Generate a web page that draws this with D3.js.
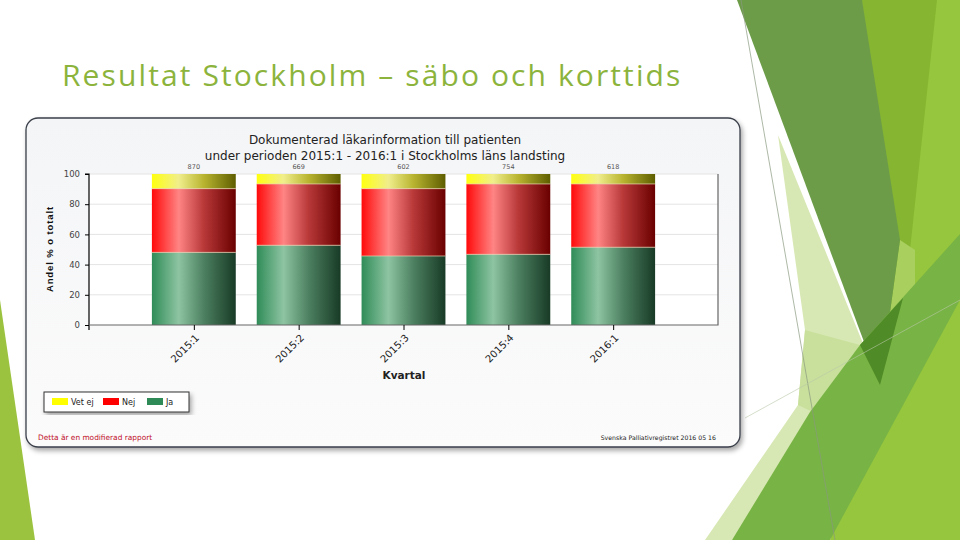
<!DOCTYPE html>
<html>
<head>
<meta charset="utf-8">
<script src="https://cdn.jsdelivr.net/npm/d3@7"></script>
<style>
  html, body { margin: 0; padding: 0; background: #fff; }
  svg { display: block; }
</style>
</head>
<body>
<div id="slide"></div>
<script>
// data
const quarters = ["2015:1", "2015:2", "2015:3", "2015:4", "2016:1"];
const counts = ["870", "669", "602", "754", "618"];
const ja = [48.1, 52.8, 45.7, 46.8, 51.5];
const nej = [42.2, 40.6, 44.6, 46.6, 41.9];
const vetej = [9.7, 6.6, 9.7, 6.6, 6.6];
const seriesNames = ["Ja", "Nej", "Vet ej"];
const yTicks = [0, 20, 40, 60, 80, 100];

const width = 960, height = 540;

const svg = d3.select("#slide").append("svg")
    .attr("width", width)
    .attr("height", height);

const defs = svg.append("defs");

// slide decoration (theme shapes)
const deco = svg.append("g");
const shapes = [
    {fill: "#96c63d", pts: [[862, 0], [960, 0], [960, 540], [830, 540], [880, 385]]},
    {fill: "#86b532", pts: [[862, 0], [937, 0], [910, 250], [880, 385]]},
    {fill: "#a9d05e", pts: [[900, 240], [915, 250], [915, 330], [880, 385]]},
    {fill: "#d8e8b4", pts: [[778, 135], [880, 385], [800, 470], [732, 540], [705, 540], [798, 405], [805, 330]]},
    {fill: "#c8e09c", pts: [[805, 330], [860, 345], [880, 385], [840, 425], [798, 405]]},
    {fill: "#6c9c48", pts: [[737, 0], [862, 0], [900, 240], [880, 385]]},
    {fill: "#78b345", pts: [[732, 540], [810, 412], [860, 345], [960, 234], [960, 300], [830, 540]]},
    {fill: "#4f8b26", pts: [[860, 345], [903, 298], [880, 385]]},
    {fill: "#9cc33f", pts: [[0, 300], [35, 540], [0, 540]]}
];
deco.selectAll("polygon")
    .data(shapes)
    .join("polygon")
    .attr("points", d => d.pts.map(p => p.join(",")).join(" "))
    .attr("fill", d => d.fill);
deco.append("line")
    .attr("x1", 741).attr("y1", 0).attr("x2", 835).attr("y2", 540)
    .attr("stroke", "#8a9a80").attr("stroke-width", 0.7);
deco.append("line")
    .attr("x1", 745).attr("y1", 418).attr("x2", 960).attr("y2", 300)
    .attr("stroke", "#b8c8a8").attr("stroke-width", 0.6);

// slide title
svg.append("text")
    .attr("x", 62)
    .attr("y", 86)
    .attr("font-family", "Open Sans, sans-serif")
    .attr("font-size", 30)
    .attr("letter-spacing", 2.1)
    .attr("fill", "#8cb43c")
    .text("Resultat Stockholm – säbo och korttids");

// chart panel
const shadow = defs.append("filter").attr("id", "shadow")
    .attr("x", "-5%").attr("y", "-5%").attr("width", "115%").attr("height", "120%");
shadow.append("feDropShadow")
    .attr("dx", 2).attr("dy", 3).attr("stdDeviation", 2.5)
    .attr("flood-color", "#000").attr("flood-opacity", 0.35);

const panelGrad = defs.append("linearGradient").attr("id", "panelGrad")
    .attr("x1", 0).attr("y1", 0).attr("x2", 0).attr("y2", 1);
panelGrad.append("stop").attr("offset", "0%").attr("stop-color", "#f4f5f7");
panelGrad.append("stop").attr("offset", "100%").attr("stop-color", "#fbfbfb");

svg.append("rect")
    .attr("x", 26).attr("y", 118)
    .attr("width", 714).attr("height", 329)
    .attr("rx", 12)
    .attr("fill", "url(#panelGrad)")
    .attr("stroke", "#3a3f4a")
    .attr("stroke-width", 1.3)
    .attr("filter", "url(#shadow)");

const chart = svg.append("g");

chart.append("text")
    .attr("x", 384).attr("y", 144)
    .attr("text-anchor", "middle")
    .attr("font-family", "DejaVu Sans, sans-serif")
    .attr("font-size", 12)
    .attr("fill", "#222")
    .selectAll("tspan")
    .data(["Dokumenterad läkarinformation till patienten",
        "under perioden 2015:1 - 2016:1 i Stockholms läns landsting"])
    .join("tspan")
    .attr("x", 385)
    .attr("dy", (d, i) => i ? 16 : 0)
    .text(d => d);

// scales
const x = d3.scaleLinear().domain([0, quarters.length + 1]).range([89, 718]);
const y = d3.scaleLinear().domain([0, 100]).range([325, 174]);
const barW = 0.8 * (x(1) - x(0));

chart.append("rect")
    .attr("x", x(0)).attr("y", y(100))
    .attr("width", x(quarters.length + 1) - x(0))
    .attr("height", y(0) - y(100))
    .attr("fill", "#fff");

// grid
chart.append("g")
    .selectAll("line")
    .data(yTicks.filter(t => t > 0))
    .join("line")
    .attr("x1", x(0)).attr("x2", x(quarters.length + 1))
    .attr("y1", d => y(d)).attr("y2", d => y(d))
    .attr("stroke", "#e4e4e4");

// gradients for bars
const grads = {
    "Vet ej": ["#ffff10", "#f0ee8c", "#b8b430", "#5e5e00"],
    "Nej": ["#ff0a0a", "#ff8484", "#b83838", "#6a0000"],
    "Ja": ["#2f8c58", "#8ec4a2", "#4c8060", "#183a26"]
};
Object.entries(grads).forEach(([name, c], i) => {
    const g = defs.append("linearGradient").attr("id", "g" + i)
        .attr("x1", 0).attr("y1", 0).attr("x2", 1).attr("y2", 0);
    g.append("stop").attr("offset", "0%").attr("stop-color", c[0]);
    g.append("stop").attr("offset", "32%").attr("stop-color", c[1]);
    g.append("stop").attr("offset", "62%").attr("stop-color", c[2]);
    g.append("stop").attr("offset", "100%").attr("stop-color", c[3]);
    grads[name].id = "g" + i;
});

const rows = quarters.map((q, i) => ({q, "Ja": ja[i], "Nej": nej[i], "Vet ej": vetej[i]}));
const stack = d3.stack().keys(seriesNames)(rows);

const layer = chart.append("g")
    .selectAll("g")
    .data(stack)
    .join("g")
    .attr("fill", d => "url(#" + grads[d.key].id + ")");

layer.selectAll("rect")
    .data(d => d)
    .join("rect")
    .attr("x", (d, i) => x(i + 1) - barW / 2)
    .attr("y", d => y(d[1]))
    .attr("width", barW)
    .attr("height", d => y(d[0]) - y(d[1]));

// light seams between segments
chart.append("g")
    .selectAll("line")
    .data(stack.slice(0, 2).flatMap(s => s.map((d, i) => ({v: d[1], i}))))
    .join("line")
    .attr("x1", d => x(d.i + 1) - barW / 2)
    .attr("x2", d => x(d.i + 1) + barW / 2)
    .attr("y1", d => y(d.v)).attr("y2", d => y(d.v))
    .attr("stroke", "#e8d2b0").attr("stroke-opacity", 0.7);

// count labels
chart.append("g")
    .selectAll("text")
    .data(counts)
    .join("text")
    .attr("x", (d, i) => x(i + 1))
    .attr("y", y(100) - 5)
    .attr("text-anchor", "middle")
    .attr("font-family", "DejaVu Sans, sans-serif")
    .attr("font-size", 6.5)
    .attr("fill", "#555")
    .text(d => d);

// axes
const yAxis = chart.append("g")
    .attr("transform", `translate(${x(0)},0)`)
    .call(d3.axisLeft(y).tickValues(yTicks).tickSize(4).tickPadding(5));
yAxis.select(".domain").attr("d", `M-4,${y(100)}H0V${y(0) + 5}`).attr("stroke", "#000").attr("stroke-width", 1.2);
yAxis.selectAll(".tick line").attr("stroke", "#000");
yAxis.selectAll("text")
    .attr("font-family", "DejaVu Sans, sans-serif")
    .attr("font-size", 8.5)
    .attr("fill", "#444");

const xAxis = chart.append("g")
    .attr("transform", `translate(0,${y(0)})`)
    .call(d3.axisBottom(x)
        .tickValues(d3.range(1, quarters.length + 1))
        .tickFormat(i => quarters[i - 1])
        .tickSize(5));
xAxis.select(".domain").attr("d", `M${x(0)},0H${x(quarters.length + 1)}V${y(100) - y(0)}`)
    .attr("stroke", "#666").attr("stroke-width", 1.2);
xAxis.selectAll(".tick line").attr("stroke", "#000");
xAxis.selectAll("text")
    .attr("font-family", "DejaVu Sans, sans-serif")
    .attr("font-size", 10)
    .attr("fill", "#222")
    .attr("text-anchor", "end")
    .attr("x", 0).attr("y", 0)
    .attr("dy", "0.35em")
    .attr("transform", "translate(3,11) rotate(-45)");

chart.append("text")
    .attr("x", 404).attr("y", 379)
    .attr("text-anchor", "middle")
    .attr("font-family", "DejaVu Sans, sans-serif")
    .attr("font-size", 10.5)
    .attr("font-weight", "bold")
    .attr("fill", "#222")
    .text("Kvartal");

chart.append("text")
    .attr("transform", "translate(53,249) rotate(-90)")
    .attr("text-anchor", "middle")
    .attr("font-family", "Liberation Sans, sans-serif")
    .attr("font-size", 9.5)
    .attr("letter-spacing", 0.9)
    .attr("font-weight", "bold")
    .attr("fill", "#111")
    .text("Andel % o totalt");

// legend
const legendItems = [
    {name: "Vet ej", color: "#ffff00", x: 52},
    {name: "Nej", color: "#ff0000", x: 103},
    {name: "Ja", color: "#2e8b57", x: 147}
];
const lg = chart.append("g");
lg.append("rect")
    .attr("x", 44).attr("y", 392).attr("width", 145).attr("height", 20)
    .attr("fill", "#fff").attr("stroke", "#333").attr("stroke-width", 1)
    .attr("filter", "url(#shadow)");
const li = lg.selectAll("g")
    .data(legendItems)
    .join("g")
    .attr("transform", d => `translate(${d.x},398)`);
li.append("rect").attr("width", 16).attr("height", 7).attr("fill", d => d.color);
li.append("text")
    .attr("x", 19).attr("y", 7)
    .attr("font-family", "DejaVu Sans, sans-serif")
    .attr("font-size", 8)
    .attr("fill", "#222")
    .text(d => d.name);

// footer
chart.append("text")
    .attr("x", 38).attr("y", 440)
    .attr("font-family", "DejaVu Sans, sans-serif")
    .attr("font-size", 7.4)
    .attr("fill", "#c0102a")
    .text("Detta är en modifierad rapport");
chart.append("text")
    .attr("x", 716).attr("y", 440)
    .attr("text-anchor", "end")
    .attr("font-family", "DejaVu Sans, sans-serif")
    .attr("font-size", 6.2)
    .attr("fill", "#222")
    .text("Svenska Palliativregistret 2016 05 16");
</script>
</body>
</html>
